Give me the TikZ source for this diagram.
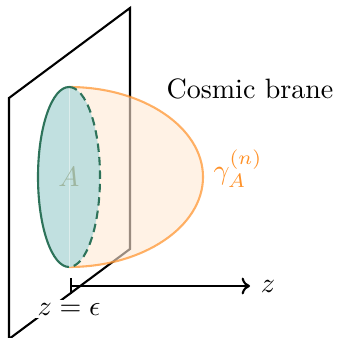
\documentclass[tikz,border=0pt]{standalone}
\usetikzlibrary{arrows.meta}
\definecolor{brane}{RGB}{255,145,40}
\definecolor{diskfill}{RGB}{190,222,222}
\definecolor{diskline}{RGB}{45,115,90}
\definecolor{alabel}{RGB}{158,182,160}
\tikzset{
  planeline/.style={line width=0.75pt, line join=miter},
  braneshape/.style={draw=brane, line width=0.75pt, fill=brane!20, fill opacity=0.6, draw opacity=0.7},
  diskline/.style={draw=diskline, line width=0.75pt},
  lbl/.style={inner sep=1.5pt}
}
\begin{document}
\begin{tikzpicture}[x=0.357pt,y=-0.357pt]
\useasboundingbox (0,0) rectangle (338,338);
% plane
\coordinate (p1) at (9,98);
\coordinate (p2) at (130,8);
\coordinate (p3) at (130,249);
\coordinate (p4) at (9,339);
\draw[planeline] (p4) -- (p1) -- (p2) -- (p3) -- (p4);
% axis
\coordinate (a0) at (70,286);
\coordinate (a1) at (250,286);
\draw[line width=0.75pt, {Bar[width=16*0.357pt]}-{To[length=3pt,width=6pt]}] (a0) -- (a1);
\node[lbl] (zl) at (268,286) {$z$};
\node[lbl, fill=white, inner sep=1pt] (ze) at (69,309) {$z=\epsilon$};
% brane
\coordinate (c) at (69,177);
\path[braneshape] (69,87) arc[start angle=90, end angle=-90, x radius=134, y radius=-90];
% disk
\fill[diskfill, fill opacity=0.95] (c) ellipse[x radius=31, y radius=90];
\draw[white, line width=0.3pt, opacity=0.45] (69,87) -- (69,267);
\node[lbl, text=alabel] (A) at (c) {$A$};
\draw[diskline] (69,87) arc[start angle=90, end angle=270, x radius=31, y radius=-90];
\draw[diskline, dash pattern=on 3pt off 1.8pt] (69,87) arc[start angle=90, end angle=-90, x radius=31, y radius=-90];
% labels
\node[lbl] (cb) at (250,89) {Cosmic brane};
\node[lbl, text=brane] (g) at (238,169) {$\gamma_A^{(n)}$};
\end{tikzpicture}
\end{document}
